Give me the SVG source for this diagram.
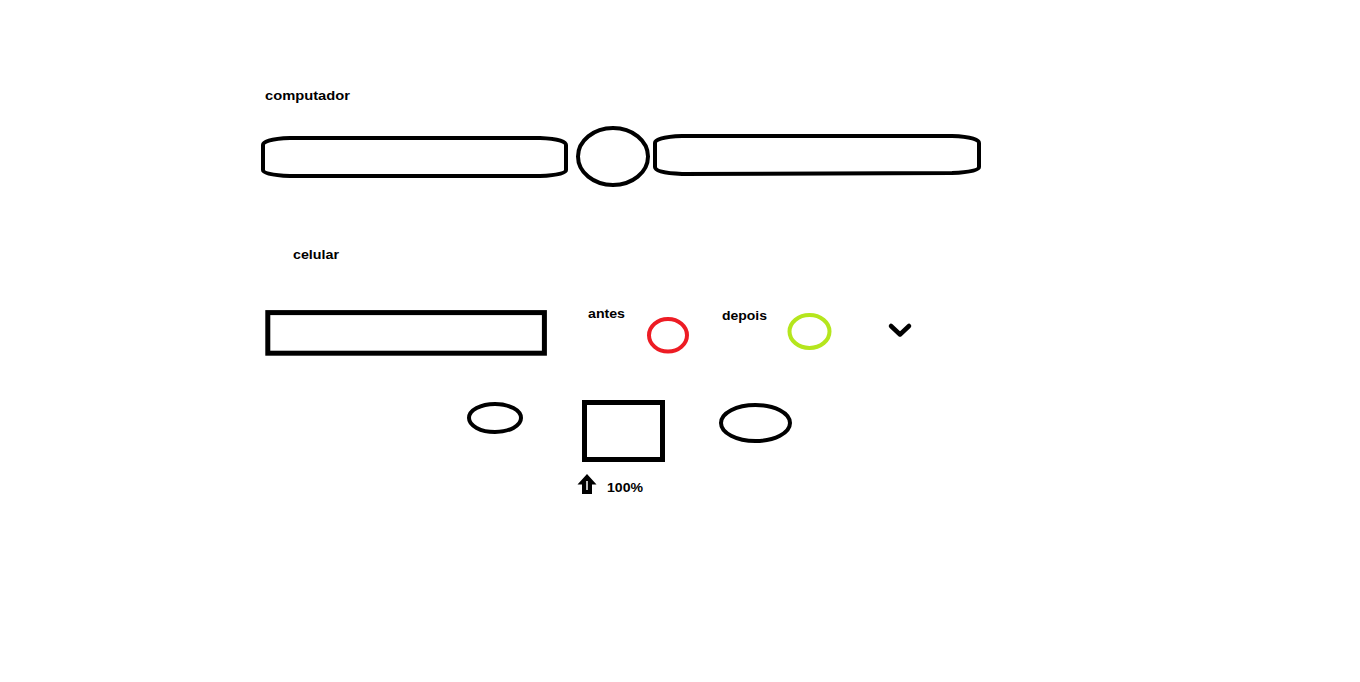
<svg xmlns="http://www.w3.org/2000/svg" width="1360" height="682" viewBox="0 0 1360 682">
<style>
.s{fill:none;stroke:#000;stroke-width:4;}
.t{font-family:"Liberation Sans",Arial,sans-serif;font-weight:bold;font-size:13px;fill:#000;}
</style>
<rect width="1360" height="682" fill="#fff"/>
<g id="label-computador"><text class="t" x="265" y="100" textLength="85" lengthAdjust="spacingAndGlyphs">computador</text></g>
<g id="bar-left"><path class="s" d="M263,145 Q263,139 290,138 L540,138 Q566,139 566,145 L566,170 Q566,175 540,176 L290,176 Q263,175 263,170 Z"/></g>
<g id="circle-center"><ellipse class="s" cx="613" cy="156.5" rx="35" ry="28.5"/></g>
<g id="bar-right"><path class="s" d="M655,143 Q655,137 682,136 L952,136 Q979,137 979,143 L979,167 Q979,172 952,173 L682,174 Q655,173 655,167 Z"/></g>
<g id="label-celular"><text class="t" x="293" y="259" textLength="46" lengthAdjust="spacingAndGlyphs">celular</text></g>
<g id="rect-celular"><rect class="s" x="267.8" y="312.6" width="276.6" height="40.6" style="stroke-width:5"/></g>
<g id="label-antes"><text class="t" x="588" y="318" textLength="37" lengthAdjust="spacingAndGlyphs">antes</text></g>
<g id="circle-antes"><ellipse class="s" cx="668" cy="335.3" rx="19" ry="16.3" style="stroke:#ED1C24"/></g>
<g id="label-depois"><text class="t" x="722" y="320" textLength="45" lengthAdjust="spacingAndGlyphs">depois</text></g>
<g id="circle-depois"><ellipse class="s" cx="809.5" cy="331.5" rx="20" ry="16.5" style="stroke:#B5E61D"/></g>
<g id="chevron"><path class="s" d="M891,326 L900,334.5 L909,326" style="stroke-width:4.5;stroke-linecap:round;stroke-linejoin:round"/></g>
<g id="ellipse-small"><ellipse class="s" cx="495" cy="418" rx="26" ry="14"/></g>
<g id="square"><rect class="s" x="584.5" y="402.5" width="78" height="57" style="stroke-width:5"/></g>
<g id="ellipse-right"><ellipse class="s" cx="755.5" cy="423" rx="34.5" ry="18"/></g>
<g id="arrow-up"><path d="M587,474 L596.5,484.5 L592,484.5 L592,494 L582,494 L582,484.5 L577.5,484.5 Z" fill="#000"/><line x1="587" y1="481" x2="587" y2="490" stroke="#fff" stroke-width="1.5"/></g>
<g id="label-100"><text class="t" x="607" y="492" textLength="36" lengthAdjust="spacingAndGlyphs">100%</text></g>
<g id="connectors"></g>
</svg>
